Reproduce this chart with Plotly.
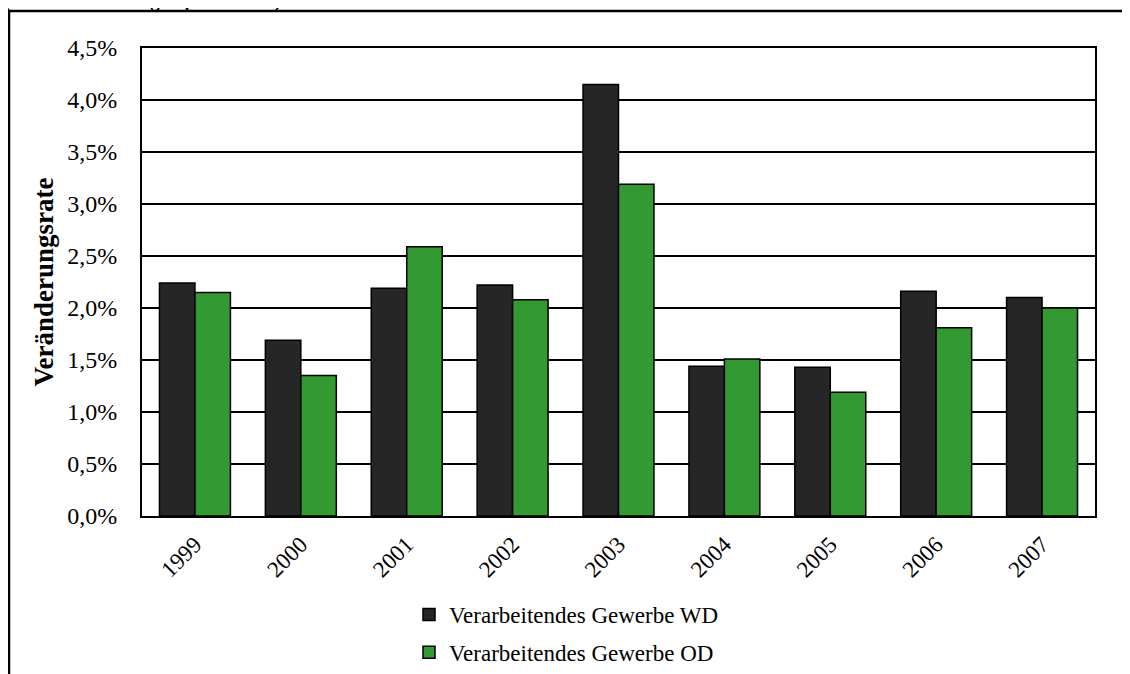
import plotly.graph_objects as go

years = ["1999", "2000", "2001", "2002", "2003", "2004", "2005", "2006", "2007"]
wd_values = [0.0224, 0.0169, 0.0219, 0.0222, 0.0415, 0.0144, 0.0143, 0.0216, 0.0210]
od_values = [0.0215, 0.0135, 0.0259, 0.0208, 0.0319, 0.0151, 0.0119, 0.0181, 0.0200]
series_names = ["Verarbeitendes Gewerbe WD", "Verarbeitendes Gewerbe OD"]
y_title = "Veränderungsrate"
top_text = "(Arbeitnehmerentgelt pro Stunde)"

FONT = "Liberation Serif"
OFF = 8  # page body margin
W, H = 1130, 674
# plot area in screen pixels
L, R, T, B = 142, 1095, 48, 516
pw, ph = R - L, B - T

def px(x):
    return (x - L) / pw

def py(y):
    return (B - y) / ph

fig = go.Figure()
fig.add_trace(go.Bar(x=years, y=wd_values, name=series_names[0],
                     marker=dict(color="#262626", line=dict(color="#000000", width=1.5)),
                     legendgroup="a"))
fig.add_trace(go.Bar(x=years, y=od_values, name=series_names[1],
                     marker=dict(color="#339933", line=dict(color="#000000", width=1.5)),
                     legendgroup="b"))

fig.update_layout(
    width=W, height=H,
    margin=dict(l=L - OFF, r=W - R + OFF, t=T - OFF, b=H - B + OFF, pad=0,
                autoexpand=False),
    paper_bgcolor="white", plot_bgcolor="white",
    separators=",.",
    font=dict(family=FONT, size=23, color="#000000"),
    barmode="group", bargap=0.33, bargroupgap=0.0,
    showlegend=True,
    legend=dict(x=px(409), xanchor="left", y=py(593), yanchor="top",
                orientation="v", font=dict(family=FONT, size=23),
                tracegroupgap=5, itemwidth=30, bgcolor="rgba(0,0,0,0)"),
    xaxis=dict(tickangle=-45, showline=True, linecolor="black", linewidth=2,
               mirror=True, ticks="", showgrid=False, automargin=False,
               ticklabelstandoff=4,
               tickfont=dict(family=FONT, size=23)),
    yaxis=dict(range=[0, 0.045], dtick=0.005, tickformat=".1%",
               showline=True, linecolor="black", linewidth=2, mirror=True,
               showgrid=True, gridcolor="black", gridwidth=1.5, automargin=False,
               ticks="", ticklabelstandoff=18, zeroline=False,
               tickfont=dict(family=FONT, size=24),
               title=dict(text="<b>" + y_title + "</b>", standoff=6,
                          font=dict(family=FONT, size=27))),
)

# outer frame (extends past right and bottom edges)
fig.add_shape(type="rect", xref="paper", yref="paper",
              x0=px(9), x1=px(1145), y0=py(700), y1=py(11),
              line=dict(color="black", width=2.5), fillcolor="rgba(0,0,0,0)",
              layer="below")

fig.add_annotation(text="<b>" + top_text + "</b>", xref="paper", yref="paper",
                   x=px(2), y=py(14), xanchor="left", yanchor="bottom",
                   showarrow=False, font=dict(family=FONT, size=19))

fig.write_html("out.html")
